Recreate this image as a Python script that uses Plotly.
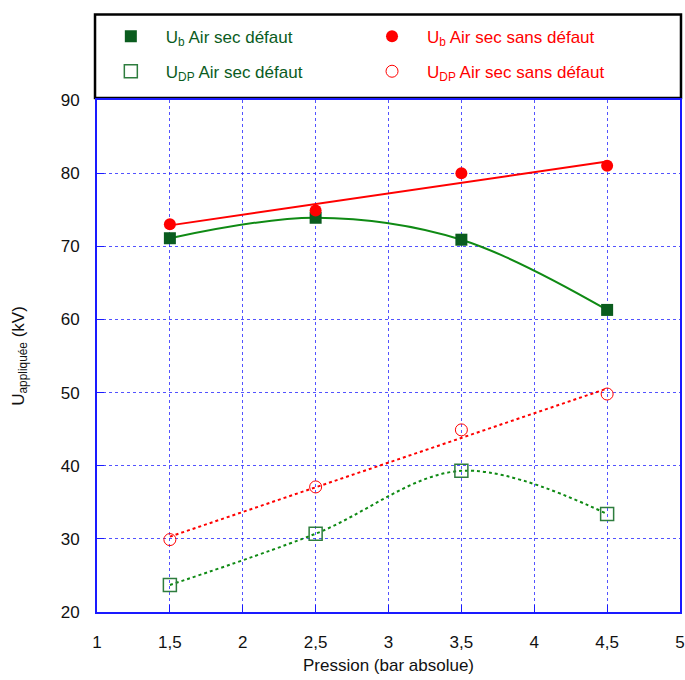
import numpy as np
import plotly.graph_objects as go

pression = [1.5, 2.5, 3.5, 4.5]
ub_defaut = [71.1, 73.9, 70.9, 61.3]
udp_defaut = [23.7, 30.7, 39.3, 33.4]
ub_sans = [73.0, 74.9, 80.0, 81.0]
udp_sans = [29.9, 37.1, 44.9, 49.8]

x_tickvals = [1, 1.5, 2, 2.5, 3, 3.5, 4, 4.5, 5]
x_ticktext = ["1", "1,5", "2", "2,5", "3", "3,5", "4", "4,5", "5"]
y_tickvals = [20, 30, 40, 50, 60, 70, 80, 90]

GREEN_M = "#0a5c1e"
GREEN_L = "#0f8a14"
RED = "#ff0000"
BLUE = "#1a1aff"
FONT = "Liberation Sans, Arial, sans-serif"

fig = go.Figure()

# trend lines (computed from the data)
xr = np.array([pression[0], pression[-1]])
p1 = np.polyfit(pression, ub_sans, 1)
p2 = np.polyfit(pression, udp_sans, 1)
fig.add_trace(go.Scatter(x=xr, y=np.polyval(p1, xr), mode="lines",
                         line=dict(color=RED, width=2), showlegend=False, hoverinfo="skip"))
fig.add_trace(go.Scatter(x=xr, y=np.polyval(p2, xr), mode="lines",
                         line=dict(color=RED, width=2, dash="dot"), showlegend=False, hoverinfo="skip"))
# smooth curves through the defect data
fig.add_trace(go.Scatter(x=pression, y=ub_defaut, mode="lines",
                         line=dict(color=GREEN_L, width=2, shape="spline", smoothing=1.0),
                         showlegend=False, hoverinfo="skip"))
fig.add_trace(go.Scatter(x=pression, y=udp_defaut, mode="lines",
                         line=dict(color=GREEN_L, width=2, shape="spline", smoothing=1.0, dash="dot"),
                         showlegend=False, hoverinfo="skip"))

def lab(color, sub, txt):
    return f"<span style='color:{color}'>U<sub>{sub}</sub> {txt}</span>"

fig.add_trace(go.Scatter(x=pression, y=ub_defaut, mode="markers", legend="legend", legendgroup="a",
                         name=lab(GREEN_M, "b", "Air sec défaut"),
                         marker=dict(symbol="square", size=12, color=GREEN_M)))
fig.add_trace(go.Scatter(x=pression, y=udp_defaut, mode="markers", legend="legend", legendgroup="b",
                         name=lab(GREEN_M, "DP", "Air sec défaut"),
                         marker=dict(symbol="square-open", size=13, color="#2e7d3e",
                                     line=dict(width=1.5))))
fig.add_trace(go.Scatter(x=pression, y=ub_sans, mode="markers", legend="legend2", legendgroup="c",
                         name=lab(RED, "b", "Air sec sans défaut"),
                         marker=dict(symbol="circle", size=12, color=RED)))
fig.add_trace(go.Scatter(x=pression, y=udp_sans, mode="markers", legend="legend2", legendgroup="d",
                         name=lab(RED, "DP", "Air sec sans défaut"),
                         marker=dict(symbol="circle-open", size=12, color=RED,
                                     line=dict(width=1))))

axis_common = dict(showline=True, linecolor=BLUE, linewidth=2, mirror=True,
                   showgrid=True, gridcolor="rgba(40,40,255,0.8)", griddash="dot", gridwidth=1,
                   ticks="inside", ticklen=7, tickcolor=BLUE, tickwidth=1,
                   zeroline=False, automargin=False,
                   tickfont=dict(size=17, color="#111111", family=FONT))

fig.update_xaxes(range=[1, 5], tickvals=x_tickvals, ticktext=x_ticktext,
                 ticklabelstandoff=14,
                 title=dict(text="Pression (bar absolue)", font=dict(size=17, color="#111111"), standoff=8),
                 **axis_common)
fig.update_yaxes(range=[20, 90], tickvals=y_tickvals,
                 ticklabelstandoff=12,
                 title=dict(text="U<sub>appliquée</sub> (kV)", font=dict(size=17, color="#111111"), standoff=32),
                 **axis_common)

fig.add_shape(type="rect", xref="paper", yref="paper", x0=-0.0034, x1=1.0017, y0=1.004, y1=1.167,
              line=dict(color="black", width=2.5), fillcolor="white", layer="below")

leg_common = dict(orientation="v", xanchor="left", yanchor="top", itemwidth=60,
                  tracegroupgap=10, bgcolor="rgba(0,0,0,0)", borderwidth=0, font=dict(size=17))

fig.update_layout(
    width=685, height=680,
    margin=dict(l=97, r=5, t=100, b=68, autoexpand=False),
    paper_bgcolor="white", plot_bgcolor="white",
    font=dict(family=FONT, size=17, color="#111111"),
    showlegend=True,
    legend=dict(x=-0.002, y=1.159, **leg_common),
    legend2=dict(x=0.446, y=1.159, **leg_common),
)

fig.write_html("out.html", config={"displayModeBar": False},
               post_script="document.body.style.margin='0';document.body.style.overflow='hidden';")
